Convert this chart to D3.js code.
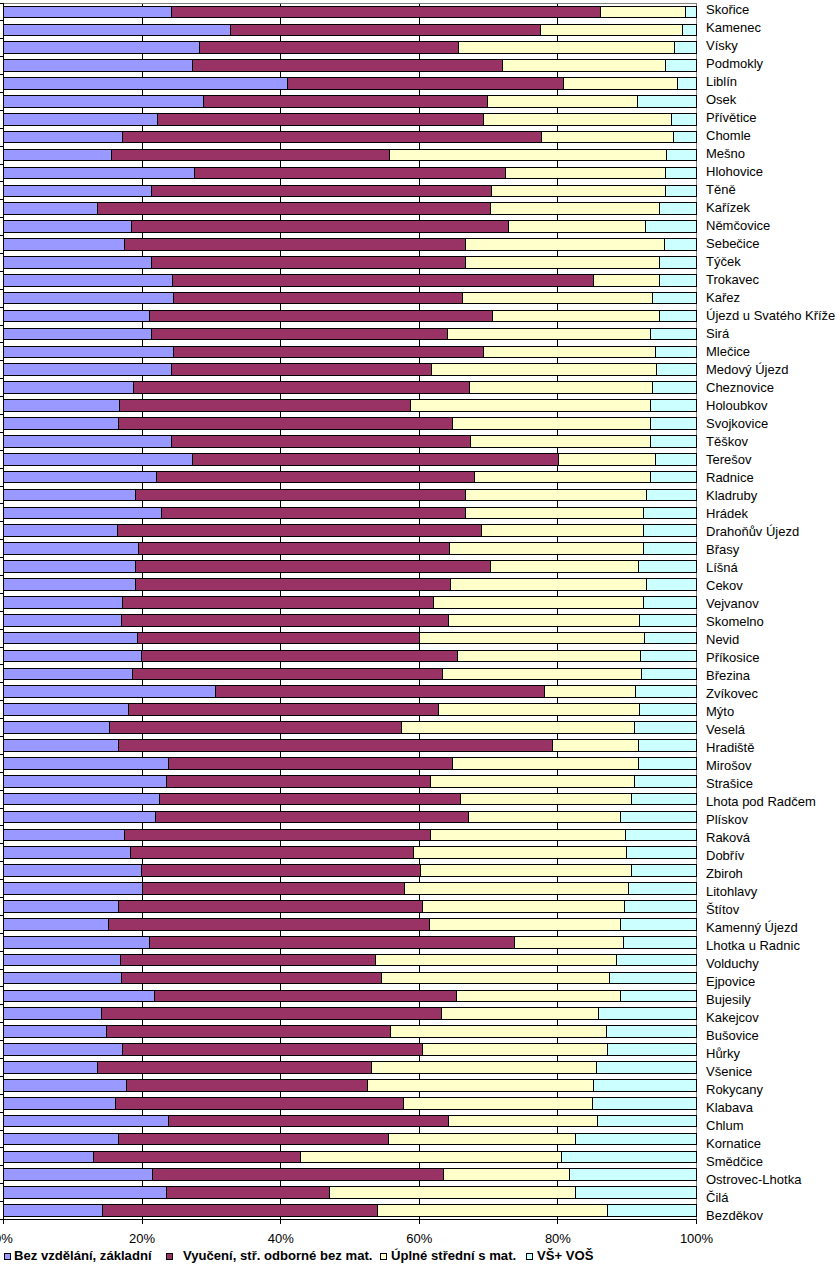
<!DOCTYPE html>
<html>
<head>
<meta charset="utf-8">
<script src="https://cdn.jsdelivr.net/npm/d3@7"></script>
<style>
  html, body { margin: 0; padding: 0; background: #fff; }
  svg { display: block; }
  text { font-family: "Liberation Sans", Arial, sans-serif; fill: #000; }
</style>
</head>
<body>
<script>
const categories = ["Skořice","Kamenec","Vísky","Podmokly","Liblín","Osek","Přívětice","Chomle","Mešno","Hlohovice","Těně","Kařízek","Němčovice","Sebečice","Týček","Trokavec","Kařez","Újezd u Svatého Kříže","Sirá","Mlečice","Medový Újezd","Cheznovice","Holoubkov","Svojkovice","Těškov","Terešov","Radnice","Kladruby","Hrádek","Drahoňův Újezd","Břasy","Líšná","Cekov","Vejvanov","Skomelno","Nevid","Příkosice","Březina","Zvíkovec","Mýto","Veselá","Hradiště","Mirošov","Strašice","Lhota pod Radčem","Plískov","Raková","Dobřív","Zbiroh","Litohlavy","Štítov","Kamenný Újezd","Lhotka u Radnic","Volduchy","Ejpovice","Bujesily","Kakejcov","Bušovice","Hůrky","Všenice","Rokycany","Klabava","Chlum","Kornatice","Smědčice","Ostrovec-Lhotka","Čilá","Bezděkov"];

const seriesNames = ["Bez vzdělání, základní","Vyučení, stř. odborné bez mat.","Úplné střední s mat.","VŠ+ VOŠ"];

const basic      = [24.2,32.7,28.3,27.3,41.0,28.9,22.2,17.2,15.6,27.5,21.4,13.6,18.5,17.4,21.4,24.4,24.6,21.1,21.4,24.6,24.3,18.8,16.8,16.6,24.3,27.3,22.1,19.1,22.8,16.5,19.5,19.1,19.1,17.2,17.0,19.4,19.9,18.6,30.6,18.1,15.3,16.6,23.8,23.5,22.5,21.9,17.4,18.3,19.9,20.1,16.6,15.2,21.1,16.9,17.0,21.8,14.2,14.9,17.2,13.6,17.7,16.2,23.8,16.6,13.0,21.5,23.5,14.3];
const vocational = [61.9,44.8,37.3,44.7,39.8,41.0,47.1,60.5,40.1,45.0,49.0,56.7,54.4,49.3,45.3,60.8,41.7,49.5,42.7,44.6,37.4,48.4,41.9,48.2,43.1,52.8,45.9,47.5,43.8,52.5,44.8,51.2,45.4,44.8,47.2,40.7,45.6,44.8,47.5,44.6,42.2,62.6,41.0,38.1,43.4,45.2,44.2,40.9,40.3,37.8,43.8,46.2,52.6,36.8,37.5,43.6,49.0,40.9,43.3,39.5,34.8,41.5,40.4,38.9,29.9,42.0,23.5,39.7];
const secondary  = [12.3,20.5,31.2,23.5,16.5,21.6,27.1,19.0,40.0,23.0,25.1,24.4,19.8,28.7,28.0,9.5,27.4,24.0,29.3,24.9,32.5,26.4,34.7,28.6,25.9,14.0,25.3,26.2,25.8,23.3,28.1,21.4,28.3,30.3,27.6,32.4,26.4,28.6,13.1,29.1,33.5,12.4,26.8,29.5,24.7,22.0,28.2,30.7,30.4,32.3,29.2,27.7,15.8,34.8,32.9,23.7,22.7,31.2,26.7,32.4,32.7,27.3,21.5,27.1,37.6,18.2,35.5,33.1];
const higher     = [1.6,2.0,3.2,4.5,2.7,8.5,3.6,3.3,4.3,4.5,4.5,5.3,7.3,4.6,5.3,5.3,6.3,5.4,6.6,5.9,5.8,6.4,6.6,6.6,6.7,5.9,6.7,7.2,7.6,7.7,7.6,8.3,7.2,7.7,8.2,7.5,8.1,8.0,8.8,8.2,9.0,8.4,8.4,8.9,9.4,10.9,10.2,10.1,9.4,9.8,10.4,10.9,10.5,11.5,12.6,10.9,14.1,13.0,12.8,14.5,14.8,15.0,14.3,17.4,19.5,18.3,17.5,12.9];

const tickValues = [0, 0.2, 0.4, 0.6, 0.8, 1];
const tickLabels = ["0%","20%","40%","60%","80%","100%"];
const colors = ["#9999FF","#993366","#FFFFCC","#CCFFFF"];

const W = 840, H = 1272;
const svg = d3.select("body").append("svg").attr("width", W).attr("height", H);

const table = categories.map((c, i) => ({cat: c, s0: basic[i], s1: vocational[i], s2: secondary[i], s3: higher[i]}));
const keys = ["s0","s1","s2","s3"];
const stack = d3.stack().keys(keys).offset(d3.stackOffsetExpand);
const layers = stack(table);

const x = d3.scaleLinear().domain([0, 1]).range([3.5, 696.5]);
const y = d3.scaleBand().domain(categories).range([3, 1219.5]).paddingInner(0.35).paddingOuter(0.175);
const yl = d3.scaleBand().domain(categories).range([0.2, 1224.2]);

// gridlines
svg.append("g").selectAll("line").data(tickValues.slice(1, -1)).join("line")
  .attr("x1", d => Math.floor(x(d)) + 0.5).attr("x2", d => Math.floor(x(d)) + 0.5)
  .attr("y1", 3).attr("y2", 1219.5)
  .attr("stroke", "#000").attr("stroke-width", 1).attr("shape-rendering", "crispEdges");

// plot border (top & right gray)
svg.append("path")
  .attr("d", `M${x(0)},3.5 H${x(1)} V1219.5`)
  .attr("fill", "none").attr("stroke", "#808080").attr("stroke-width", 1).attr("shape-rendering", "crispEdges");

// bars
svg.append("g").selectAll("g").data(layers).join("g")
  .attr("fill", (d, i) => colors[i])
  .selectAll("rect").data(d => d).join("rect")
  .attr("x", d => x(d[0]))
  .attr("width", d => Math.max(0, x(d[1]) - x(d[0])))
  .attr("y", d => y(d.data.cat))
  .attr("height", y.bandwidth())
  .attr("stroke", "#000").attr("stroke-width", 1).attr("shape-rendering", "crispEdges");

// left axis line + ticks
svg.append("line").attr("x1", 3.5).attr("x2", 3.5).attr("y1", 3).attr("y2", 1220)
  .attr("stroke", "#000").attr("shape-rendering", "crispEdges");
const boundaries = d3.range(categories.length + 1).map(k => y.range()[0] + k * y.step());
svg.append("g").selectAll("line").data(boundaries).join("line")
  .attr("x1", 0).attr("x2", 3.5)
  .attr("y1", d => Math.floor(d) + 0.5).attr("y2", d => Math.floor(d) + 0.5)
  .attr("stroke", "#000").attr("shape-rendering", "crispEdges");

// bottom axis
svg.append("line").attr("x1", 3).attr("x2", x(1)).attr("y1", 1219.5).attr("y2", 1219.5)
  .attr("stroke", "#000").attr("shape-rendering", "crispEdges");
svg.append("g").selectAll("line").data(tickValues).join("line")
  .attr("x1", d => Math.floor(x(d)) + 0.5).attr("x2", d => Math.floor(x(d)) + 0.5)
  .attr("y1", 1219.5).attr("y2", 1224)
  .attr("stroke", "#000").attr("shape-rendering", "crispEdges");
svg.append("g").selectAll("text").data(tickValues).join("text")
  .attr("x", d => x(d)).attr("y", 1243)
  .attr("text-anchor", "middle").style("font-size", "13px")
  .text((d, i) => tickLabels[i]);

// category labels
svg.append("g").selectAll("text").data(categories).join("text")
  .attr("x", 706).attr("y", d => yl(d) + yl.bandwidth() / 2)
  .attr("dy", "0.36em").style("font-size", "13px")
  .text(d => d);

// legend
const legendX = [4, 166, 380, 526];
const legendTextX = [14, 183, 391, 537];
const lg = svg.append("g");
seriesNames.forEach((name, i) => {
  lg.append("rect").attr("x", legendX[i] + 0.5).attr("y", 1253.5).attr("width", 6).attr("height", 6)
    .attr("fill", colors[i]).attr("stroke", "#000").attr("shape-rendering", "crispEdges");
  lg.append("text").attr("x", legendTextX[i]).attr("y", 1259.5)
    .style("font-size", "13.1px").style("font-weight", "bold").text(name);
});
</script>
</body>
</html>
